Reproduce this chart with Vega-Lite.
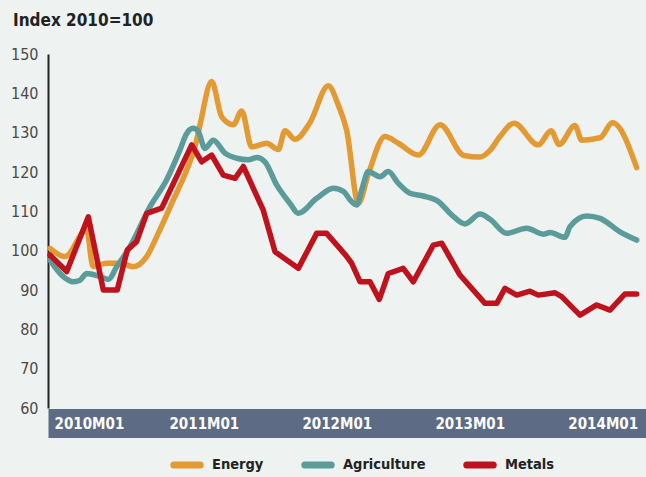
{
  "$schema": "https://vega.github.io/schema/vega-lite/v6.json",
  "width": 598,
  "height": 354,
  "autosize": {"type": "none"},
  "padding": {"left": 48, "top": 54, "right": 0, "bottom": 69},
  "background": "#eef2f1",
  "title": {"text": "Index 2010=100", "anchor": "start", "frame": "group", "dx": -35, "offset": 16, "font": "DejaVu Sans Condensed, Roboto, sans-serif", "fontSize": 17, "fontWeight": "bold", "color": "#222222"},
  "config": {"view": {"stroke": null}},
  "resolve": {"axis": {"x": "independent"}},
  "data": {"values": [
    {"s":"Energy","t":0,"v":100.6},{"s":"Energy","t":1.35,"v":98.5},{"s":"Energy","t":3.31,"v":105.3},{"s":"Energy","t":3.88,"v":96.0},{"s":"Energy","t":5.12,"v":96.8},{"s":"Energy","t":6.47,"v":96.8},{"s":"Energy","t":7.46,"v":95.9},{"s":"Energy","t":8.73,"v":98.5},{"s":"Energy","t":9.77,"v":104.4},{"s":"Energy","t":11.13,"v":112.9},{"s":"Energy","t":12.34,"v":120.5},{"s":"Energy","t":13.09,"v":126.4},{"s":"Energy","t":13.54,"v":132.0},{"s":"Energy","t":14.59,"v":143.0},{"s":"Energy","t":15.5,"v":134.0},{"s":"Energy","t":16.54,"v":132.0},{"s":"Energy","t":17.3,"v":135.5},{"s":"Energy","t":18.2,"v":126.4},{"s":"Energy","t":19.56,"v":127.3},{"s":"Energy","t":20.6,"v":125.7},{"s":"Energy","t":21.21,"v":130.5},{"s":"Energy","t":22.11,"v":128.3},{"s":"Energy","t":23.47,"v":132.6},{"s":"Energy","t":25.12,"v":141.9},{"s":"Energy","t":26.02,"v":137.0},{"s":"Energy","t":26.78,"v":130.5},{"s":"Energy","t":27.83,"v":112.0},{"s":"Energy","t":28.73,"v":119.5},{"s":"Energy","t":30.23,"v":129.0},{"s":"Energy","t":31.44,"v":127.3},{"s":"Energy","t":33.24,"v":124.3},{"s":"Energy","t":35.2,"v":132.0},{"s":"Energy","t":37.36,"v":124.2},{"s":"Energy","t":38.81,"v":123.8},{"s":"Energy","t":39.71,"v":125.5},{"s":"Energy","t":40.61,"v":129.0},{"s":"Energy","t":41.88,"v":132.4},{"s":"Energy","t":44.07,"v":126.9},{"s":"Energy","t":45.22,"v":130.5},{"s":"Energy","t":45.94,"v":127.0},{"s":"Energy","t":47.38,"v":131.8},{"s":"Energy","t":47.99,"v":128.1},{"s":"Energy","t":49.64,"v":128.7},{"s":"Energy","t":50.77,"v":132.5},{"s":"Energy","t":52.95,"v":121.1},
    {"s":"Agriculture","t":0,"v":97.6},{"s":"Agriculture","t":1.2,"v":93.4},{"s":"Agriculture","t":2.1,"v":92.1},{"s":"Agriculture","t":2.71,"v":92.5},{"s":"Agriculture","t":3.31,"v":94.2},{"s":"Agriculture","t":4.51,"v":93.4},{"s":"Agriculture","t":5.26,"v":92.7},{"s":"Agriculture","t":6.02,"v":95.9},{"s":"Agriculture","t":7.22,"v":101.0},{"s":"Agriculture","t":9.03,"v":111.2},{"s":"Agriculture","t":10.53,"v":118.0},{"s":"Agriculture","t":11.73,"v":125.6},{"s":"Agriculture","t":12.34,"v":129.8},{"s":"Agriculture","t":12.93,"v":131.1},{"s":"Agriculture","t":13.38,"v":130.3},{"s":"Agriculture","t":13.99,"v":126.0},{"s":"Agriculture","t":14.74,"v":128.1},{"s":"Agriculture","t":15.79,"v":124.8},{"s":"Agriculture","t":16.85,"v":123.5},{"s":"Agriculture","t":17.9,"v":123.1},{"s":"Agriculture","t":18.66,"v":123.7},{"s":"Agriculture","t":19.4,"v":122.6},{"s":"Agriculture","t":20.46,"v":116.7},{"s":"Agriculture","t":21.66,"v":112.0},{"s":"Agriculture","t":22.41,"v":109.5},{"s":"Agriculture","t":24.07,"v":113.3},{"s":"Agriculture","t":25.57,"v":115.9},{"s":"Agriculture","t":26.53,"v":115.0},{"s":"Agriculture","t":27.08,"v":112.9},{"s":"Agriculture","t":27.68,"v":111.6},{"s":"Agriculture","t":28.13,"v":115.4},{"s":"Agriculture","t":28.73,"v":120.1},{"s":"Agriculture","t":29.78,"v":118.8},{"s":"Agriculture","t":30.53,"v":120.1},{"s":"Agriculture","t":31.44,"v":117.1},{"s":"Agriculture","t":32.49,"v":114.6},{"s":"Agriculture","t":33.69,"v":113.9},{"s":"Agriculture","t":35.05,"v":112.5},{"s":"Agriculture","t":36.25,"v":109.1},{"s":"Agriculture","t":37.45,"v":106.8},{"s":"Agriculture","t":38.81,"v":109.3},{"s":"Agriculture","t":39.71,"v":108.0},{"s":"Agriculture","t":41.22,"v":104.4},{"s":"Agriculture","t":43.02,"v":105.7},{"s":"Agriculture","t":44.52,"v":104.2},{"s":"Agriculture","t":45.13,"v":104.6},{"s":"Agriculture","t":46.48,"v":103.4},{"s":"Agriculture","t":46.93,"v":106.1},{"s":"Agriculture","t":48.44,"v":108.8},{"s":"Agriculture","t":49.64,"v":108.2},{"s":"Agriculture","t":51.44,"v":104.8},{"s":"Agriculture","t":52.95,"v":102.7},
    {"s":"Metals","t":0,"v":98.9},{"s":"Metals","t":1.51,"v":94.7},{"s":"Metals","t":3.46,"v":108.6},{"s":"Metals","t":4.81,"v":90.0},{"s":"Metals","t":6.07,"v":90.0},{"s":"Metals","t":6.98,"v":100.2},{"s":"Metals","t":7.82,"v":102.3},{"s":"Metals","t":8.73,"v":109.5},{"s":"Metals","t":10.08,"v":110.8},{"s":"Metals","t":12.79,"v":126.9},{"s":"Metals","t":13.69,"v":122.6},{"s":"Metals","t":14.59,"v":124.3},{"s":"Metals","t":15.64,"v":119.2},{"s":"Metals","t":16.7,"v":118.4},{"s":"Metals","t":17.45,"v":121.4},{"s":"Metals","t":19.25,"v":110.3},{"s":"Metals","t":20.31,"v":99.7},{"s":"Metals","t":22.41,"v":95.5},{"s":"Metals","t":24.07,"v":104.4},{"s":"Metals","t":24.97,"v":104.4},{"s":"Metals","t":26.7,"v":98.8},{"s":"Metals","t":27.23,"v":96.8},{"s":"Metals","t":27.98,"v":92.1},{"s":"Metals","t":28.88,"v":92.1},{"s":"Metals","t":29.72,"v":87.6},{"s":"Metals","t":30.53,"v":94.2},{"s":"Metals","t":31.88,"v":95.5},{"s":"Metals","t":32.79,"v":92.1},{"s":"Metals","t":34.59,"v":101.4},{"s":"Metals","t":35.35,"v":101.9},{"s":"Metals","t":37.0,"v":93.8},{"s":"Metals","t":39.26,"v":86.6},{"s":"Metals","t":40.32,"v":86.6},{"s":"Metals","t":41.06,"v":90.4},{"s":"Metals","t":42.12,"v":88.7},{"s":"Metals","t":43.32,"v":89.7},{"s":"Metals","t":44.07,"v":88.7},{"s":"Metals","t":45.58,"v":89.3},{"s":"Metals","t":46.18,"v":88.3},{"s":"Metals","t":47.83,"v":83.6},{"s":"Metals","t":49.34,"v":86.2},{"s":"Metals","t":50.54,"v":84.9},{"s":"Metals","t":51.9,"v":89.0},{"s":"Metals","t":52.95,"v":89.0}
  ]},
  "encoding": {
    "y": {"field": "v", "type": "quantitative",
      "scale": {"domain": [60, 150], "nice": false, "zero": false},
      "axis": {"title": null, "values": [60,70,80,90,100,110,120,130,140,150], "grid": false, "ticks": false,
        "domainColor": "#222222", "domainWidth": 2,
        "labelPadding": 10, "labelColor": "#4a4a4a", "labelFont": "DejaVu Sans Condensed, Roboto, sans-serif", "labelFontSize": 16}},
    "color": {"field": "s", "type": "nominal",
      "scale": {"domain": ["Energy", "Agriculture", "Metals"], "range": ["#e39a33", "#5b9b9a", "#be121c"]},
      "legend": {"orient": "none", "legendX": 122, "legendY": 394, "direction": "horizontal", "title": null,
        "symbolType": "stroke", "symbolStrokeWidth": 7, "symbolSize": 700, "padding": 0,
        "labelFont": "DejaVu Sans Condensed, Roboto, sans-serif", "labelFontSize": 14.5, "labelFontWeight": "bold", "labelColor": "#222222",
        "columnPadding": 26, "labelOffset": 8,
        "encode": {"symbols": {"update": {"strokeCap": {"value": "round"}}}}}}
  },
  "layer": [
    {"transform": [{"filter": "datum.s == 'Energy'"}],
     "mark": {"type": "line", "strokeWidth": 5.5, "interpolate": "monotone", "strokeCap": "round", "strokeJoin": "round"},
     "encoding": {"x": {"field": "t", "type": "quantitative",
        "scale": {"domain": [-0.18, 53.79], "nice": false, "zero": false},
        "axis": {"orient": "bottom", "title": null, "values": [0, 12, 24, 36, 48], "grid": false, "ticks": false, "labels": false,
          "domainColor": "#5e6b85", "domainWidth": 29, "offset": 15, "zindex": 1}}}},
    {"transform": [{"filter": "datum.s == 'Agriculture'"}],
     "mark": {"type": "line", "strokeWidth": 5.5, "interpolate": "monotone", "strokeCap": "round", "strokeJoin": "round"},
     "encoding": {"x": {"field": "t", "type": "quantitative", "scale": {"domain": [-0.18, 53.79], "nice": false, "zero": false}, "axis": null}}},
    {"transform": [{"filter": "datum.s == 'Metals'"}],
     "mark": {"type": "line", "strokeWidth": 5.5, "strokeCap": "round", "strokeJoin": "round"},
     "encoding": {"x": {"field": "t", "type": "quantitative",
        "scale": {"domain": [-0.18, 53.79], "nice": false, "zero": false},
        "axis": {"orient": "bottom", "title": null, "values": [0, 12, 24, 36, 48], "grid": false, "ticks": false, "domain": false, "offset": 15, "zindex": 2,
          "labelExpr": "['2010M01','2011M01','2012M01','2013M01','2014M01'][round(datum.value/12)]",
          "labelFlush": false, "labelOverlap": false, "labelBound": false,
          "labelAlign": "left", "labelBaseline": "middle", "labelPadding": 0,
          "labelOffset": {"condition": {"test": "datum.value == 0", "value": 4}, "value": -14},
          "labelColor": "#ffffff", "labelFont": "DejaVu Sans Condensed, Roboto, sans-serif", "labelFontSize": 15, "labelFontWeight": "bold"}}}}
  ]
}
